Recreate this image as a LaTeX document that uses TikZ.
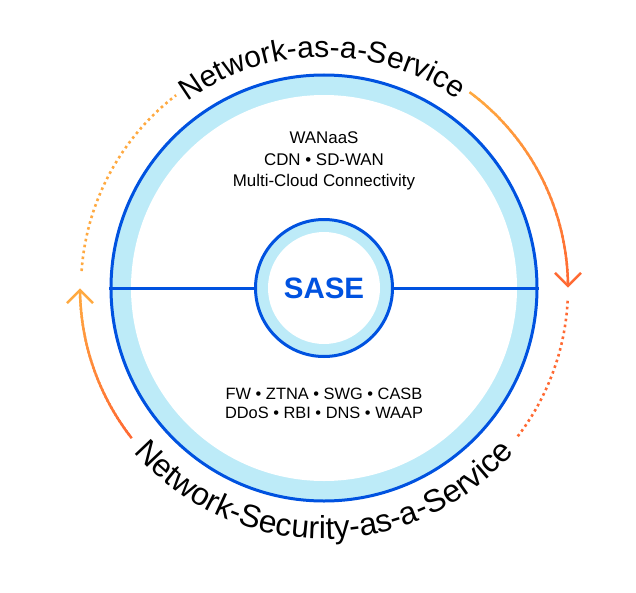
\documentclass[tikz,border=0pt]{standalone}
\usepackage{fontspec}
\setmainfont{Liberation Sans}
\usetikzlibrary{decorations.text}
\definecolor{mainblue}{HTML}{0052E0}
\definecolor{ringblue}{HTML}{BDEBF8}
\definecolor{orangeA}{HTML}{FFA940}
\definecolor{orangeB}{HTML}{FF6A33}
\tikzset{
  bluestroke/.style={draw=mainblue, line width=3pt},
  arrowline/.style={line width=2.5pt},
  dotline/.style={line width=2.6pt, dash pattern=on 2.6pt off 3.4pt},
  chevron/.style={line width=2.5pt, line join=miter},
  bodyup/.style={font=\fontsize{16.9}{17}\selectfont, text=black, align=center},
  bodylow/.style={font=\fontsize{16.4}{17}\selectfont, text=black, align=center},
}
\begin{document}
\begin{tikzpicture}[x=1pt,y=1pt]
\useasboundingbox (-324,-304) rectangle (312,288);
% outer ring
\fill[ringblue] (0,0) circle (213);
\fill[white] (0,0) circle (193);
\node[circle, bluestroke, minimum size=426pt, inner sep=0pt] (outer) at (0,0) {};
% inner ring
\fill[ringblue] (0,0) circle (68.5);
\fill[white] (0,0) circle (56);
\node[circle, bluestroke, minimum size=137pt, inner sep=0pt, text=mainblue,
  font=\fontsize{29.5}{30}\selectfont\bfseries] (sase) at (0,0) {SASE};
% connectors
\draw[draw=mainblue, line width=3pt] (outer.west) -- (sase.west);
\draw[draw=mainblue, line width=3pt] (sase.east) -- (outer.east);
% texts inside
\node[bodyup] (wan) at (0,150) {WANaaS};
\node[bodyup] (cdn) at (0,128) {CDN • SD-WAN};
\node[bodyup] (mcc) at (0,106) {Multi-Cloud Connectivity};
\node[bodylow] (fw) at (0,-105.5) {FW • ZTNA • SWG • CASB};
\node[bodylow] (ddos) at (0,-124.5) {DDoS • RBI • DNS • WAAP};
% curved labels
\path[decorate, decoration={text along path, text align=center,
  text={|\fontsize{30}{30}\selectfont|Network-as-a-Service}}]
  (180.5:231) arc[start angle=180.5, end angle=0.5, radius=231];
\path[decorate, decoration={text along path, text align=center,
  text={|\fontsize{31.8}{31.8}\selectfont|Network-Security-as-a-Service}}]
  (180:251) arc[start angle=180, end angle=360, radius=251];
% right gradient arc
\foreach \i in {0,...,39}{
  \pgfmathsetmacro\aa{53.4-52.9*\i/40}
  \pgfmathsetmacro\ab{max(53.4-52.9*(\i+1)/40-0.4,0.5)}
  \pgfmathtruncatemacro\p{100*\i/39}
  \draw[arrowline, draw=orangeB!\p!orangeA] (\aa:244) arc[start angle=\aa, end angle=\ab, radius=244];
}
\coordinate (rtip) at (0.5:244);
\draw[chevron, draw=orangeB] ([shift={(-13,13)}]rtip) -- (rtip) -- ([shift={(13,13)}]rtip);
\draw[dotline, draw=orangeB] (-3:244) arc[start angle=-3, end angle=-38, radius=244];
% left gradient arc
\foreach \i in {0,...,39}{
  \pgfmathsetmacro\aa{218-37.5*\i/40}
  \pgfmathsetmacro\ab{max(218-37.5*(\i+1)/40-0.4,180.5)}
  \pgfmathtruncatemacro\p{100*\i/39}
  \draw[arrowline, draw=orangeA!\p!orangeB] (\aa:244) arc[start angle=\aa, end angle=\ab, radius=244];
}
\coordinate (ltip) at (180.5:244);
\draw[chevron, draw=orangeA] ([shift={(-13,-13)}]ltip) -- (ltip) -- ([shift={(13,-13)}]ltip);
\draw[dotline, draw=orangeA] (176:243) arc[start angle=176, end angle=127.5, radius=243];
\end{tikzpicture}
\end{document}
